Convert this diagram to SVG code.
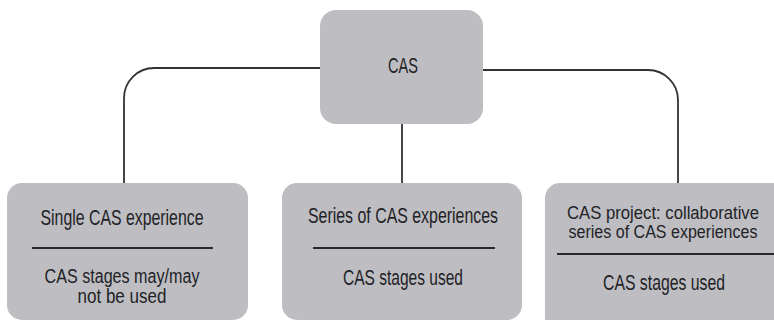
<svg xmlns="http://www.w3.org/2000/svg" width="774" height="320" viewBox="0 0 774 320">
<style>
.box{fill:#bebec2;}
.t{font-family:"Liberation Sans",Arial,sans-serif;font-size:22px;fill:#222226;text-anchor:middle;}
.t2{font-size:20px;}
.t3{font-size:17.5px;}
.sep{stroke:#2a2a2e;stroke-width:2.2;}
.conn{fill:none;stroke:#333;stroke-width:1.8;}
</style>
<rect width="774" height="320" fill="#ffffff"/>
<g id="connectors">
<path class="conn" d="M320 68 H154 A30 30 0 0 0 124 98 V183"/>
<path class="conn" d="M483 70 H648 A30 30 0 0 1 678 100 V183"/>
<path class="conn" d="M402 124 V183"/>
</g>
<g id="node-cas">
<rect class="box" x="320" y="10" width="163" height="114" rx="16"/>
<text class="t" x="403" y="73" textLength="30" lengthAdjust="spacingAndGlyphs">CAS</text>
</g>
<g id="node-single">
<rect class="box" x="7" y="183" width="241" height="137" rx="15"/>
<text class="t" x="122" y="225" textLength="163" lengthAdjust="spacingAndGlyphs">Single CAS experience</text>
<line class="sep" x1="32" y1="248" x2="213" y2="248"/>
<text class="t t2" x="122" y="283" textLength="155" lengthAdjust="spacingAndGlyphs">CAS stages may/may</text>
<text class="t t2" x="122" y="303" textLength="89" lengthAdjust="spacingAndGlyphs">not be used</text>
</g>
<g id="node-series">
<rect class="box" x="282" y="183" width="240" height="137" rx="15"/>
<text class="t" x="403" y="223" textLength="190" lengthAdjust="spacingAndGlyphs">Series of CAS experiences</text>
<line class="sep" x1="313" y1="248" x2="495" y2="248"/>
<text class="t" x="403" y="285" textLength="120" lengthAdjust="spacingAndGlyphs">CAS stages used</text>
</g>
<g id="node-project">
<path class="box" d="M560 183 H774 V320 H545 V198 A15 15 0 0 1 560 183 Z"/>
<text class="t t3" x="663" y="219" textLength="192" lengthAdjust="spacingAndGlyphs">CAS project: collaborative</text>
<text class="t t3" x="663" y="238" textLength="189" lengthAdjust="spacingAndGlyphs">series of CAS experiences</text>
<line class="sep" x1="557" y1="254" x2="774" y2="254"/>
<text class="t" x="664" y="290" textLength="122" lengthAdjust="spacingAndGlyphs">CAS stages used</text>
</g>
</svg>
